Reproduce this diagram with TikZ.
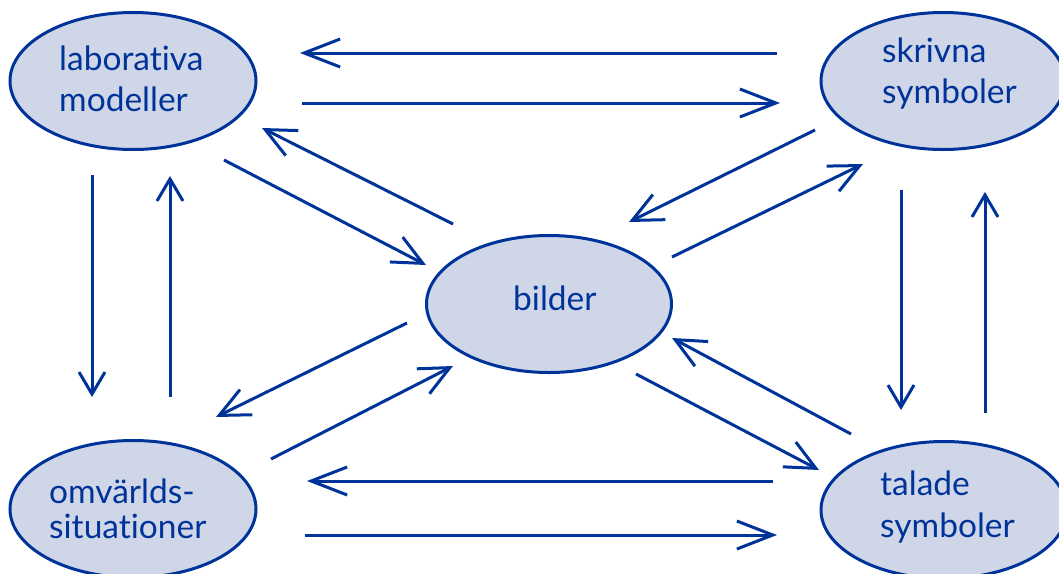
\documentclass[tikz,border=0pt]{standalone}
\usepackage{fontspec}
\setmainfont{Lato}[Ligatures=NoCommon]
\usetikzlibrary{arrows.meta,shapes.geometric}
\definecolor{ink}{RGB}{0,51,153}
\definecolor{pale}{RGB}{207,214,232}
\tikzset{
  blob/.style={ellipse, draw=ink, fill=pale, line width=3pt, inner sep=0pt},
  lbl/.style={anchor=base west, text=ink, font=\fontsize{33.5}{40}\selectfont, inner sep=0pt},
  flow/.style={draw=ink, line width=3pt},
  hflow/.style={flow, -{Straight Barb[length=36pt,width=28pt]}},
  dflow/.style={flow, -{Straight Barb[length=30pt,width=28pt]}},
  vflow/.style={flow, -{Straight Barb[length=22pt,width=26pt]}},
}
\begin{document}
\begin{tikzpicture}[x=1pt,y=-1pt]
\useasboundingbox (0,0) rectangle (1059,573);

% concept ellipses
\node[blob, minimum width=246pt, minimum height=137pt] (lab) at (133,81) {};
\node[blob, minimum width=244pt, minimum height=137pt] (skr) at (943,81) {};
\node[blob, minimum width=245pt, minimum height=137pt] (bil) at (549,304) {};
\node[blob, minimum width=246pt, minimum height=137pt] (omv) at (133,509) {};
\node[blob, minimum width=246pt, minimum height=137pt] (tal) at (944,510) {};

% labels
\node[lbl] (labA) at (59,70) {laborativa};
\node[lbl] (labB) at (59,111) {modeller};
\node[lbl] (skrA) at (882,62) {skrivna};
\node[lbl] (skrB) at (882,103) {symboler};
\node[lbl] (bilA) at (513,310) {bilder};
\node[lbl] (omvA) at (49,503) {omvärlds-};
\node[lbl] (omvB) at (49,538) {situationer};
\node[lbl] (talA) at (880,495) {talade};
\node[lbl] (talB) at (880,537) {symboler};

% connector end points
\coordinate (a1) at (777,53);  \coordinate (b1) at (300,53);
\coordinate (a2) at (302,103); \coordinate (b2) at (780,103);
\coordinate (a3) at (453,224); \coordinate (b3) at (262,128);
\coordinate (a4) at (224,160); \coordinate (b4) at (426,265);
\coordinate (a5) at (815,130); \coordinate (b5) at (629,222);
\coordinate (a6) at (672,257); \coordinate (b6) at (863,164);
\coordinate (a7) at (92,175);  \coordinate (b7) at (92,397);
\coordinate (a8) at (170,397); \coordinate (b8) at (170,176);
\coordinate (a9) at (407,323); \coordinate (b9) at (216,417);
\coordinate (a10) at (271,459); \coordinate (b10) at (453,366);
\coordinate (a11) at (773,481); \coordinate (b11) at (307,481);
\coordinate (a12) at (305,535); \coordinate (b12) at (777,535);
\coordinate (a13) at (901,190); \coordinate (b13) at (901,410);
\coordinate (a14) at (985,413); \coordinate (b14) at (985,192);
\coordinate (a15) at (851,434); \coordinate (b15) at (672,338);
\coordinate (a16) at (636,374); \coordinate (b16) at (819,470);

% horizontal links
\draw[hflow] (a1) -- (b1);
\draw[hflow] (a2) -- (b2);
\draw[hflow] (a11) -- (b11);
\draw[hflow] (a12) -- (b12);
% vertical links
\draw[vflow] (a7) -- (b7);
\draw[vflow] (a8) -- (b8);
\draw[vflow] (a13) -- (b13);
\draw[vflow] (a14) -- (b14);
% diagonal links through the centre
\draw[dflow] (a3) -- (b3);
\draw[dflow] (a4) -- (b4);
\draw[dflow] (a5) -- (b5);
\draw[dflow] (a6) -- (b6);
\draw[dflow] (a9) -- (b9);
\draw[dflow] (a10) -- (b10);
\draw[dflow] (a15) -- (b15);
\draw[dflow] (a16) -- (b16);
\end{tikzpicture}
\end{document}
